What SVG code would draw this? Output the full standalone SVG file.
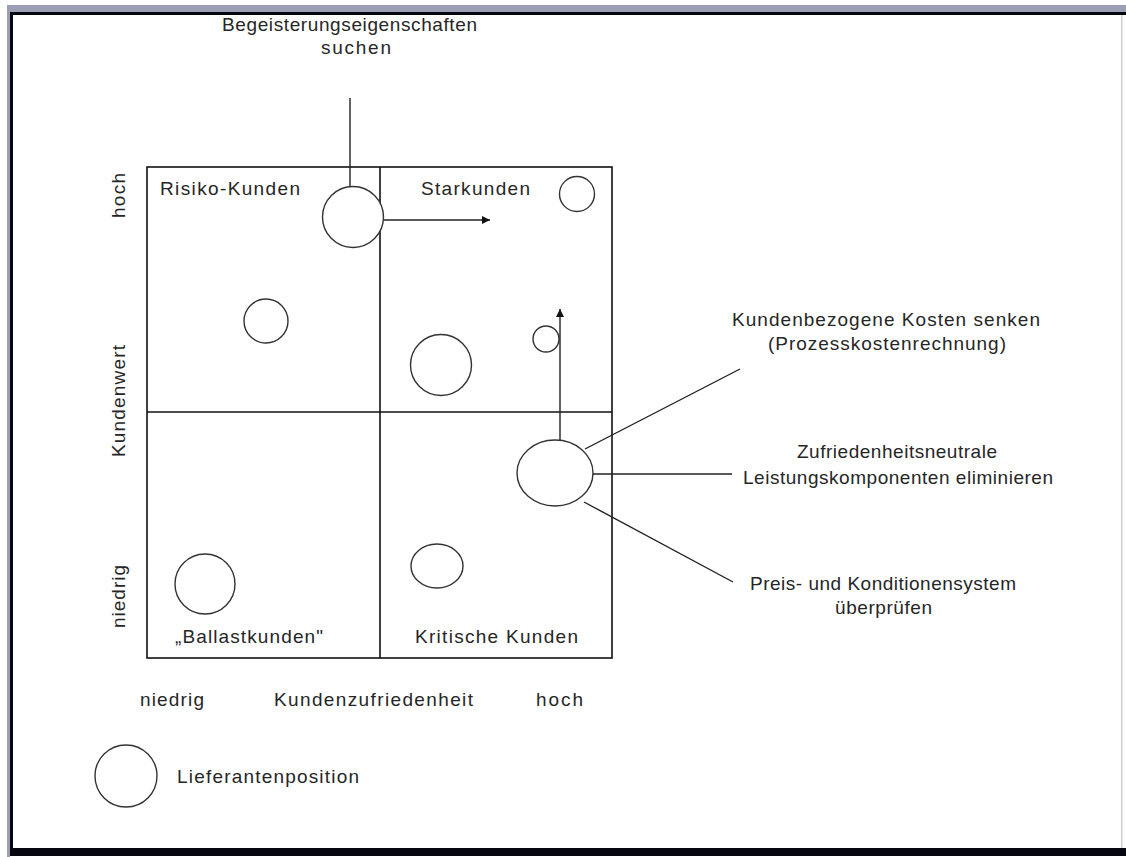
<svg xmlns="http://www.w3.org/2000/svg" width="1126" height="857" viewBox="0 0 1126 857">
  <defs>
    <style>
      .frame-band { fill: #9c9fb3; }
      .frame-line { fill: #06060f; }
      .grid { fill: none; stroke: #111; stroke-width: 1.6; }
      .pos { fill: #fff; stroke: #333; stroke-width: 1.4; }
      .lead { fill: none; stroke: #222; stroke-width: 1.4; }
      .lbl { font-family: "Liberation Sans", Arial, sans-serif; font-size: 19px; fill: #262626; }
    </style>
    <marker id="arrowhead" viewBox="0 0 10 10" refX="10" refY="5" markerWidth="8" markerHeight="8" markerUnits="userSpaceOnUse" orient="auto">
      <path d="M0,0 L10,5 L0,10 Z" fill="#111"/>
    </marker>
  </defs>

  <!-- page background and window frame -->
  <rect x="0" y="0" width="1126" height="857" fill="#fff"/>
  <rect class="frame-band" x="7" y="5" width="1119" height="8"/>
  <rect class="frame-band" x="7" y="5" width="3" height="852"/>
  <rect class="frame-line" x="10" y="12" width="1116" height="3"/>
  <rect class="frame-line" x="10" y="12" width="3" height="844"/>
  <rect class="frame-line" x="10" y="848" width="1116" height="8"/>
  <rect x="1121" y="15" width="1.5" height="833" fill="#cfcfcf"/>

  <!-- portfolio matrix -->
  <g id="matrix">
    <rect class="grid" x="147" y="167" width="465" height="491"/>
    <line class="grid" x1="380" y1="167" x2="380" y2="658"/>
    <line class="grid" x1="147" y1="412" x2="612" y2="412"/>
  </g>

  <g id="quadrant-labels">
    <text class="lbl" x="160" y="195" textLength="140" lengthAdjust="spacing">Risiko-Kunden</text>
    <text class="lbl" x="421" y="195" textLength="109" lengthAdjust="spacing">Starkunden</text>
    <text class="lbl" x="175" y="643" textLength="148" lengthAdjust="spacing">„Ballastkunden"</text>
    <text class="lbl" x="415" y="643" textLength="163" lengthAdjust="spacing">Kritische Kunden</text>
  </g>

  <g id="axis-x">
    <text class="lbl" x="140" y="706" textLength="64" lengthAdjust="spacing">niedrig</text>
    <text class="lbl" x="274" y="706" textLength="199" lengthAdjust="spacing">Kundenzufriedenheit</text>
    <text class="lbl" x="536" y="706" textLength="47" lengthAdjust="spacing">hoch</text>
  </g>

  <g id="axis-y">
    <text class="lbl" transform="translate(125,628) rotate(-90)" textLength="63" lengthAdjust="spacing">niedrig</text>
    <text class="lbl" transform="translate(125,457) rotate(-90)" textLength="112" lengthAdjust="spacing">Kundenwert</text>
    <text class="lbl" transform="translate(125,218) rotate(-90)" textLength="45" lengthAdjust="spacing">hoch</text>
  </g>

  <!-- supplier positions -->
  <g id="pos-risiko-top"><circle class="pos" cx="353" cy="217" r="30.5"/></g>
  <g id="pos-risiko"><circle class="pos" cx="266" cy="321" r="22"/></g>
  <g id="pos-stark-top"><circle class="pos" cx="577" cy="194" r="17.5"/></g>
  <g id="pos-stark-mid"><circle class="pos" cx="441" cy="365" r="30.5"/></g>
  <g id="pos-stark-small"><circle class="pos" cx="546" cy="339" r="13"/></g>
  <g id="pos-kritisch-big"><ellipse class="pos" cx="555" cy="473" rx="38" ry="33"/></g>
  <g id="pos-kritisch-small"><ellipse class="pos" cx="437" cy="566" rx="26" ry="22"/></g>
  <g id="pos-ballast"><circle class="pos" cx="205" cy="584" r="30"/></g>

  <!-- action notes -->
  <g id="note-begeisterung">
    <text class="lbl" x="222" y="31" textLength="255" lengthAdjust="spacing">Begeisterungseigenschaften</text>
    <text class="lbl" x="321" y="54" textLength="70" lengthAdjust="spacing">suchen</text>
  </g>
  <g id="note-kosten">
    <text class="lbl" x="732" y="326" textLength="308" lengthAdjust="spacing">Kundenbezogene Kosten senken</text>
    <text class="lbl" x="768" y="350" textLength="238" lengthAdjust="spacing">(Prozesskostenrechnung)</text>
  </g>
  <g id="note-leistung">
    <text class="lbl" x="797" y="458" textLength="200" lengthAdjust="spacing">Zufriedenheitsneutrale</text>
    <text class="lbl" x="743" y="484" textLength="310" lengthAdjust="spacing">Leistungskomponenten eliminieren</text>
  </g>
  <g id="note-preis">
    <text class="lbl" x="750" y="590" textLength="266" lengthAdjust="spacing">Preis- und Konditionensystem</text>
    <text class="lbl" x="835" y="614" textLength="97" lengthAdjust="spacing">überprüfen</text>
  </g>

  <!-- legend -->
  <g id="legend">
    <circle class="pos" cx="126" cy="776" r="31"/>
    <text class="lbl" x="177" y="783" textLength="182" lengthAdjust="spacing">Lieferantenposition</text>
  </g>

  <!-- connectors -->
  <g id="connectors">
    <line class="lead" x1="350" y1="98" x2="350" y2="186.5"/>
    <line class="lead" x1="384" y1="220" x2="490" y2="220" marker-end="url(#arrowhead)"/>
    <line class="lead" x1="560" y1="440" x2="560" y2="309" marker-end="url(#arrowhead)"/>
    <line class="lead" x1="585" y1="449" x2="740" y2="369"/>
    <line class="lead" x1="593" y1="474" x2="732" y2="474"/>
    <line class="lead" x1="584" y1="502" x2="733" y2="582"/>
  </g>
</svg>
